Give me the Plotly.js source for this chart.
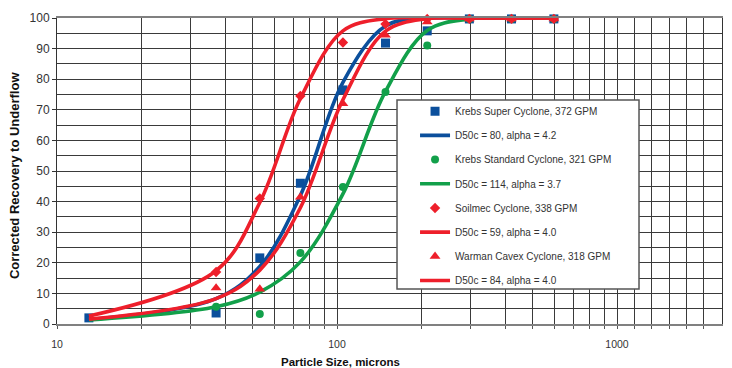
<!DOCTYPE html>
<html>
<head>
<meta charset="utf-8">
<script src="https://cdn.plot.ly/plotly-3.0.1.min.js"></script>
<style>html,body{margin:0;padding:0;background:#fff;}#chart{width:732px;height:368px;}</style>
</head>
<body>
<div id="chart"></div>
<script>
// Particle sizes (microns)
const sizes = [13, 37, 53, 74, 105, 149, 210, 297, 420, 595];
const sizesNo13 = [37, 53, 74, 105, 149, 210, 297, 420, 595];

// Measured points
const krebsSuperPts = [2, 3.6, 21.6, 46, 76.5, 91.8, 95.8, 99.7, 99.7, 99.7];
const krebsStdPts = [5.6, 3.3, 23.2, 44.8, 75.8, 91, 99.7, 99.7, 99.7];
const soilmecPts = [17, 41, 74.5, 92, 98, 99.7, 99.7, 99.7, 99.7];
const warmanPts = [11.8, 11.4, 41.5, 72, 94.4, 98.7, 99.7, 99.7, 99.7];

// Fitted curves
const krebsSuperFit = [1.5, 8.3, 18.8, 42, 79, 97.4, 99.9, 100, 100, 100];
const krebsStdFit = [1.3, 5.6, 10.4, 20.3, 42.5, 76, 95.9, 99.7, 100, 100];
const soilmecFit = [2.6, 17.4, 39.7, 73.7, 95.8, 99.8, 100, 100, 100, 100];
const warmanFit = [1.6, 8.3, 17.6, 38, 73.3, 95.7, 99.8, 100, 100, 100];

// Labels
const names = [
  'Krebs Super Cyclone, 372 GPM', 'D50c = 80, alpha = 4.2',
  'Krebs Standard Cyclone, 321 GPM', 'D50c = 114, alpha = 3.7',
  'Soilmec Cyclone, 338 GPM', 'D50c = 59, alpha = 4.0',
  'Warman Cavex Cyclone, 318 GPM', 'D50c = 84, alpha = 4.0'
];

// Axis gridline positions and labels
const xGridVals = [10,20,30,40,50,60,70,80,90,100,200,300,400,500,600,700,800,900,1000,1150,1323,1534,1764,2045];
const xGridText = xGridVals.map(v => (v === 10 || v === 100 || v === 1000) ? String(v) : '');

const BLUE = '#0b4f9c', GREEN = '#12a04a', RED = '#ee1f2b';
const LW = 3.6;

function pts(x, y, name, color, symbol, size, g) {
  return {x: x, y: y, name: name, type: 'scatter', mode: 'markers', cliponaxis: false,
    legendgroup: g, marker: {color: color, symbol: symbol, size: size, line: {width: 0}}};
}
function fit(x, y, name, color, g) {
  return {x: x, y: y, name: name, type: 'scatter', mode: 'lines', cliponaxis: false,
    legendgroup: g, line: {color: color, width: LW, shape: 'spline', smoothing: 1}};
}

const data = [
  pts(sizes, krebsSuperPts, names[0], BLUE, 'square', 9, 'a'),
  fit(sizes, krebsSuperFit, names[1], BLUE, 'b'),
  pts(sizesNo13, krebsStdPts, names[2], GREEN, 'circle', 8, 'c'),
  fit(sizes, krebsStdFit, names[3], GREEN, 'd'),
  pts(sizesNo13, soilmecPts, names[4], RED, 'diamond', 8, 'e'),
  fit(sizes, soilmecFit, names[5], RED, 'f'),
  pts(sizesNo13, warmanPts, names[6], RED, 'triangle-up', 9.5, 'g'),
  fit(sizes, warmanFit, names[7], RED, 'h')
];

const FONT = 'Liberation Sans, Arial, Helvetica, sans-serif';

const layout = {
  width: 732, height: 368,
  margin: {l: 57, r: 10, t: 18, b: 44},
  paper_bgcolor: '#fff', plot_bgcolor: '#fff',
  font: {family: FONT, color: '#333'},
  showlegend: true,
  legend: {
    x: 0.5384, y: 0.743, xanchor: 'left', yanchor: 'top',
    bgcolor: 'rgba(0,0,0,0)', borderwidth: 0,
    font: {family: FONT, size: 10, color: '#333'},
    traceorder: 'grouped', tracegroupgap: 5.2
  },
  xaxis: {
    type: 'log', range: [1, 3.375],
    tickmode: 'array', tickvals: xGridVals, ticktext: xGridText,
    showgrid: true, gridcolor: '#3a3a3a', gridwidth: 1,
    ticks: 'outside', ticklen: 3, tickcolor: '#555',
    tickfont: {family: FONT, size: 10.5, color: '#333'},
    ticklabelstandoff: 6,
    showline: true, linecolor: '#808080', linewidth: 2, mirror: true,
    zeroline: false, fixedrange: true
  },
  yaxis: {
    range: [0, 100], dtick: 10, tick0: 0,
    showgrid: true, gridcolor: '#3a3a3a', gridwidth: 1,
    minor: {dtick: 5, showgrid: true, gridcolor: '#3a3a3a', gridwidth: 1},
    ticks: 'outside', ticklen: 4, tickcolor: '#333',
    tickfont: {family: FONT, size: 12, color: '#333'},
    showline: true, linecolor: '#333', linewidth: 1, mirror: true,
    zeroline: false, fixedrange: true
  },
  shapes: [{
    type: 'rect', xref: 'paper', yref: 'paper', layer: 'above',
    x0: 0.5113, x1: 0.8752, y0: 0.1144, y1: 0.732,
    fillcolor: '#fff', line: {color: '#555', width: 1.5}
  }],
  annotations: [
    {text: 'Particle Size, microns', xref: 'paper', yref: 'paper', x: 0.4256, y: -0.124,
     xanchor: 'center', yanchor: 'middle', showarrow: false,
     font: {family: FONT, size: 11.5, color: '#111', weight: 'bold'}},
    {text: 'Corrected Recovery to Underflow', xref: 'paper', yref: 'paper', x: -0.0639, y: 0.485,
     xanchor: 'center', yanchor: 'middle', showarrow: false, textangle: -90,
     font: {family: FONT, size: 13, color: '#111', weight: 'bold'}}
  ]
};

Plotly.newPlot('chart', data, layout, {staticPlot: true, displayModeBar: false});
</script>
</body>
</html>
